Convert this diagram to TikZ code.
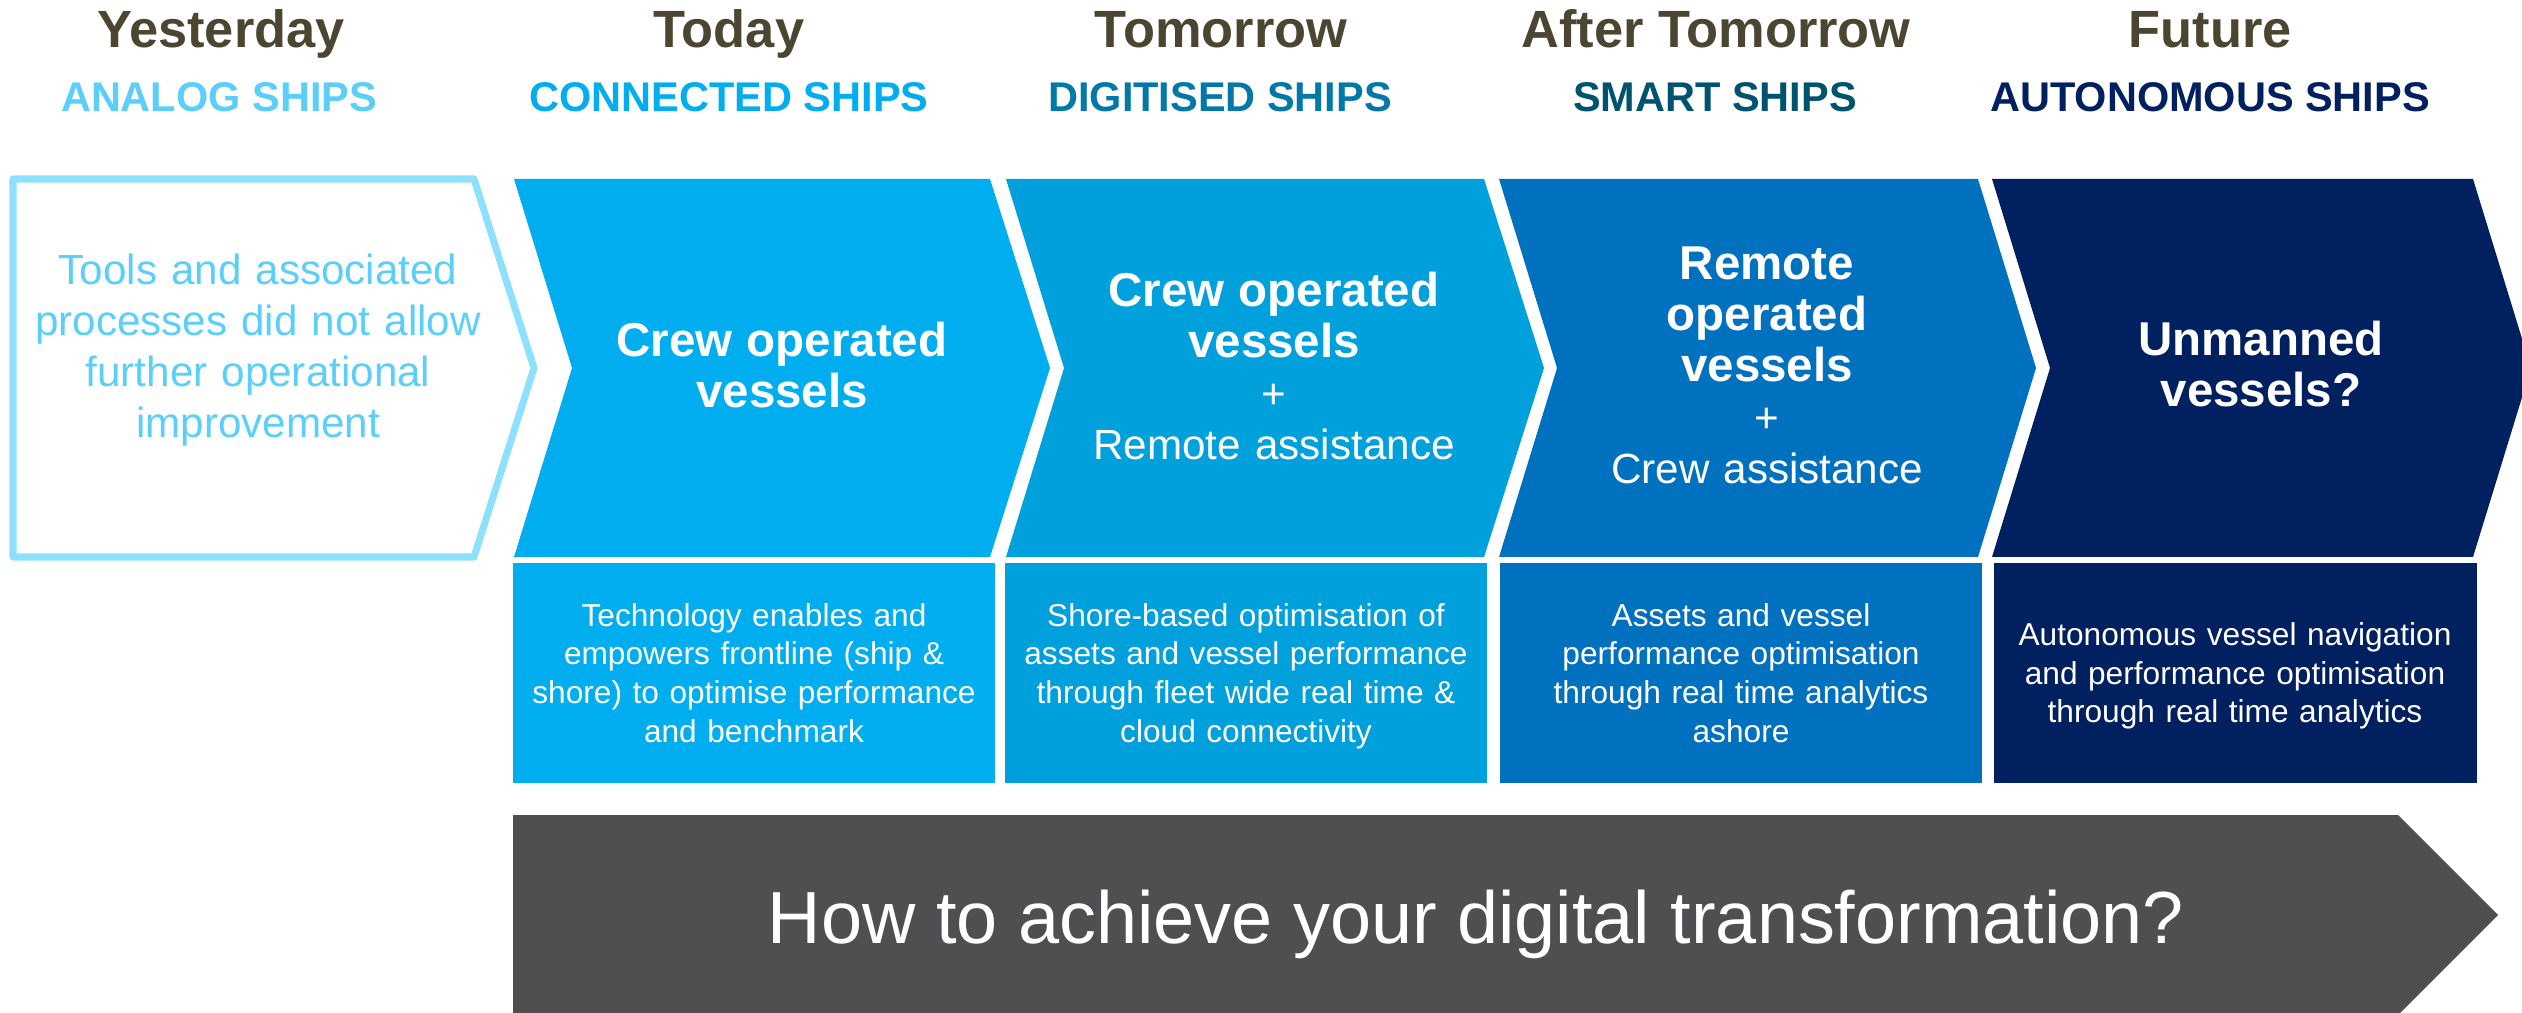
\documentclass[tikz,border=0pt]{standalone}
\usepackage{fontspec}
\setmainfont{Liberation Sans}

\definecolor{daybrown}{HTML}{4B4531}
\definecolor{analogtxt}{HTML}{5BCEFA}
\definecolor{analogline}{HTML}{8EE0FF}
\definecolor{connectedblue}{HTML}{00AEEF}
\definecolor{digitisedblue}{HTML}{00A0DD}
\definecolor{digitisedtxt}{HTML}{0079A8}
\definecolor{smartblue}{HTML}{0071BF}
\definecolor{smarttxt}{HTML}{00536F}
\definecolor{autonomousblue}{HTML}{00205F}
\definecolor{howgrey}{HTML}{4F4F51}

\newcommand{\chevbold}{\bfseries\fontsize{13.5}{14.5}\selectfont}

\begin{document}
\begin{tikzpicture}[x=0.01cm, y=-0.01cm, inner sep=0pt,
        daytitle/.style={anchor=base, text=daybrown, font=\bfseries\fontsize{14.9}{18}\selectfont},
        shiptitle/.style={anchor=base, font=\bfseries\fontsize{11.8}{14}\selectfont},
        chevtext/.style={text width=4.7cm, align=center, font=\fontsize{12}{14.5}\selectfont},
        boxtext/.style={text=white, text width=4.7cm, align=center, font=\fontsize{9}{11}\selectfont}]
        \useasboundingbox (0,0) rectangle (2522,1013);
        \clip (0,0) rectangle (2522,1013);
        %\draw[gray, dashed] (0,0) grid[step=100] (2522,1013);

        \node[daytitle] (yesterday) at (221,48) {Yesterday};
        \node[daytitle] (today) at (729,48) {Today};
        \node[daytitle] (tomorrow) at (1221,48) {Tomorrow};
        \node[daytitle] (aftertomorrow) at (1716,48) {After Tomorrow};
        \node[daytitle] (future) at (2210,48) {Future};

        \node[shiptitle, text=analogtxt] (analog) at (219,112) {ANALOG SHIPS};
        \node[shiptitle, text=connectedblue] (connected) at (729,112) {CONNECTED SHIPS};
        \node[shiptitle, text=digitisedtxt] (digitised) at (1220,112) {DIGITISED SHIPS};
        \node[shiptitle, text=smarttxt] (smart) at (1715,112) {SMART SHIPS};
        \node[shiptitle, text=autonomousblue] (autonomous) at (2210,112) {AUTONOMOUS SHIPS};

        % chevrons
        \draw[analogline, line width=2pt, line join=round] (13,179) -- (474,179) -- (534,368) -- (474,557) -- (13,557) -- cycle;
        \fill[connectedblue] (514,179) -- ++(476,0) -- ++(60,189) -- ++(-60,189) -- ++(-476,0) -- ++(58,-189) -- cycle;
        \fill[digitisedblue] (1006,179) -- ++(478,0) -- ++(60,189) -- ++(-60,189) -- ++(-478,0) -- ++(58,-189) -- cycle;
        \fill[smartblue] (1499,179) -- ++(479,0) -- ++(58,189) -- ++(-58,189) -- ++(-479,0) -- ++(58,-189) -- cycle;
        \fill[autonomousblue] (1992,179) -- ++(481,0) -- ++(58,189) -- ++(-58,189) -- ++(-481,0) -- ++(58,-189) -- cycle;

        \node[chevtext, text=analogtxt] (analogtext) at (258,350) {Tools and associated\\ processes did not allow\\ further operational\\ improvement};
        \node[chevtext, text=white] (crew) at (782,365) {\chevbold Crew operated\\ vessels};
        \node[chevtext, text=white] (remote) at (1274,366) {{\chevbold Crew operated\\ vessels}\\ +\\ Remote assistance};
        \node[chevtext, text=white] (remoteop) at (1767,365) {{\chevbold Remote\\ operated\\ vessels}\\ +\\ Crew assistance};
        \node[chevtext, text=white] (unmanned) at (2261,364) {\chevbold Unmanned\\ vessels?};

        % boxes below
        \fill[connectedblue] (513,563) rectangle (995,783);
        \fill[digitisedblue] (1005,563) rectangle (1487,783);
        \fill[smartblue] (1500,563) rectangle (1982,783);
        \fill[autonomousblue] (1994,563) rectangle (2477,783);

        \node[boxtext] (techbox) at (754,673) {Technology enables and\\ empowers frontline (ship \&\\ shore) to optimise performance\\ and benchmark};
        \node[boxtext] (shorebox) at (1246,676) {Shore-based optimisation of\\ assets and vessel performance\\ through fleet wide real time \&\\ cloud connectivity};
        \node[boxtext] (assetsbox) at (1741,673) {Assets and vessel\\ performance optimisation\\ through real time analytics\\ ashore};
        \node[boxtext] (navbox) at (2235,676) {Autonomous vessel navigation\\ and performance optimisation\\ through real time analytics};

        % big arrow
        \fill[howgrey] (513,815) -- (2398,815) -- (2498,915) -- (2398,1015) -- (513,1015) -- cycle;
        \node[anchor=base, text=white, font=\fontsize{21}{25}\selectfont] (how) at (1476,943) {How to achieve your digital transformation?};
    \end{tikzpicture}
\end{document}
